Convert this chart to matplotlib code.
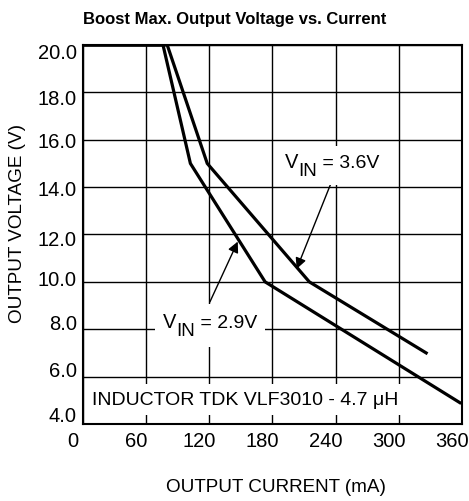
import matplotlib
matplotlib.use("Agg")
import matplotlib.pyplot as plt
import matplotlib.transforms as mtransforms
from matplotlib.patches import Rectangle

plt.rcParams['font.family'] = ['Liberation Sans', 'DejaVu Sans']

# curve data (mA, V)
I_29 = [0, 76, 102, 173, 358]
V_29 = [20.0, 20.0, 15.0, 10.0, 4.9]
I_36 = [0, 80, 118, 215, 326]
V_36 = [20.0, 20.0, 15.0, 10.0, 7.0]

X_TICKS = [0, 60, 120, 180, 240, 300, 360]
Y_TICKS = [4.0, 6.0, 8.0, 10.0, 12.0, 14.0, 16.0, 18.0, 20.0]

# the original's y labels don't sit exactly on their gridlines (pixels, up = +)
Y_LABEL_NUDGE = [10, 8, 7.5, 4, -3, 0, 0, -4, -5.5]

fig = plt.figure(figsize=(4.69, 5.02), dpi=100)
ax = fig.add_axes([0.177, 0.1534, 0.808, 0.755])

ax.plot(I_29, V_29, color='k', lw=2.3, solid_joinstyle='miter', zorder=3)
ax.plot(I_36, V_36, color='k', lw=2.3, solid_joinstyle='miter', zorder=3)

ax.set_xlim(0, 360)
ax.set_ylim(4, 20)
ax.set_xticks(X_TICKS)
ax.set_yticks(Y_TICKS)
ax.set_xticklabels([str(x) for x in X_TICKS])
ax.set_yticklabels(["%.1f" % y for y in Y_TICKS])
ax.tick_params(length=0, labelsize=14.5)
ax.tick_params(axis='x', pad=5)
ax.tick_params(axis='y', pad=4.5)
ax.grid(True, color='k', lw=1.0)
for s in ax.spines.values():
    s.set_linewidth(1.5)

# x labels sit a bit left of their gridlines in the original
shift = mtransforms.ScaledTranslation(-10 / 100, 0, fig.dpi_scale_trans)
for lab in ax.get_xticklabels():
    lab.set_transform(lab.get_transform() + shift)
for lab, dy in zip(ax.get_yticklabels(), Y_LABEL_NUDGE):
    lab.set_transform(lab.get_transform() +
                      mtransforms.ScaledTranslation(0, dy / 100, fig.dpi_scale_trans))

renderer = fig.canvas.get_renderer()


def vin_label(x, y, value, pad):
    # "V" + lowered "IN" + " = value", laid out left to right
    kw = dict(xycoords='data', textcoords='offset pixels', ha='left', va='baseline',
              zorder=5)
    t1 = ax.annotate('V', (x, y), xytext=(0, 0), fontsize=14.5, **kw)
    w1 = t1.get_window_extent(renderer).width
    t2 = ax.annotate('IN', (x, y), xytext=(w1, -8), fontsize=13.5, **kw)
    w2 = t2.get_window_extent(renderer).width
    t3 = ax.annotate(' = ' + value, (x, y), xytext=(w1 + w2, 0), fontsize=14, **kw)
    # white patch behind the whole label, hides the grid
    bb = mtransforms.Bbox.union([t.get_window_extent(renderer) for t in (t1, t2, t3)])
    ax.add_patch(Rectangle((bb.x0 - pad, bb.y0 - pad), bb.width + 2 * pad,
                           bb.height + 2 * pad, transform=mtransforms.IdentityTransform(),
                           facecolor='white', edgecolor='none', zorder=4.5))


arrow = dict(arrowstyle='-|>', color='k', lw=1.0, mutation_scale=16, shrinkA=0, shrinkB=0)

ax.annotate('', xy=(203, 10.55), xytext=(235, 14.1), arrowprops=arrow, zorder=4)
vin_label(192, 14.85, '3.6V', 6)

ax.annotate('', xy=(147, 11.7), xytext=(120.5, 9.15), arrowprops=arrow, zorder=4)
vin_label(76, 8.1, '2.9V', 8)

ax.text(9, 5.05, 'INDUCTOR TDK VLF3010 - 4.7 μH', fontsize=14, ha='left', va='center',
        bbox=dict(facecolor='white', edgecolor='none', pad=5), zorder=5)

fig.text(0.5, 0.962, 'Boost Max. Output Voltage vs. Current', fontsize=12,
         fontweight='bold', ha='center', va='center')
fig.text(0.589, 0.028, 'OUTPUT CURRENT (mA)', fontsize=13.6, ha='center', va='center')
fig.text(0.037, 0.554, 'OUTPUT VOLTAGE (V)', fontsize=13.6, ha='center', va='center',
         rotation=90)

fig.savefig('out.png', dpi=100)
